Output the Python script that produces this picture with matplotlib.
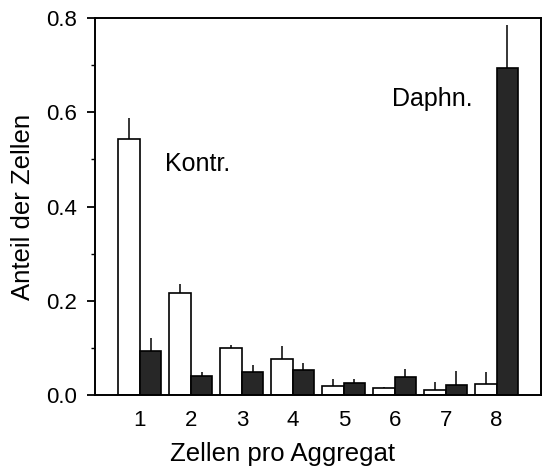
import matplotlib
matplotlib.use("Agg")
import matplotlib.pyplot as plt
from matplotlib.ticker import MultipleLocator
import numpy as np

plt.rcParams['font.family'] = ['Liberation Sans', 'DejaVu Sans']

# cells per aggregate
groups = [1, 2, 3, 4, 5, 6, 7, 8]

# control (white bars) and Daphnia (dark bars): mean and upper error
kontr = [0.543, 0.216, 0.099, 0.076, 0.019, 0.014, 0.011, 0.023]
kontr_err = [0.044, 0.019, 0.008, 0.028, 0.014, 0.004, 0.016, 0.026]
daphn = [0.093, 0.040, 0.049, 0.053, 0.026, 0.038, 0.021, 0.693]
daphn_err = [0.027, 0.009, 0.015, 0.014, 0.009, 0.017, 0.031, 0.092]


def main():
    fig = plt.figure(figsize=(5.51, 4.75), dpi=100)
    ax = fig.add_axes([0.1724, 0.1684, 0.8095, 0.7937])

    x = np.array(groups, dtype=float)
    w = 0.42

    ax.bar(x - w / 2, kontr, w, color='white', edgecolor='black', linewidth=1.2, zorder=2)
    ax.bar(x + w / 2, daphn, w, color='#272727', edgecolor='black', linewidth=1.2, zorder=2)

    # only the upper half of each error bar is drawn
    ax.errorbar(x - w / 2, kontr, yerr=[np.zeros(len(x)), kontr_err], fmt='none',
                ecolor='black', elinewidth=1.1, capsize=0, zorder=1)
    ax.errorbar(x + w / 2, daphn, yerr=[np.zeros(len(x)), daphn_err], fmt='none',
                ecolor='black', elinewidth=1.1, capsize=0, zorder=1)

    ax.set_xlim(0.12, 8.87)
    ax.set_ylim(0, 0.8)
    ax.set_xticks(groups)
    ax.set_yticks([0.0, 0.2, 0.4, 0.6, 0.8])
    ax.set_yticklabels(['0.0', '0.2', '0.4', '0.6', '0.8'])
    ax.yaxis.set_minor_locator(MultipleLocator(0.1))

    ax.tick_params(axis='x', length=0, pad=11, labelsize=16)
    ax.tick_params(axis='y', which='major', length=6, width=1.3, pad=7, labelsize=16)
    ax.tick_params(axis='y', which='minor', length=3, width=1.0)
    for s in ax.spines.values():
        s.set_linewidth(1.4)

    ax.text(1.5, 0.49, 'Kontr.', fontsize=18, va='center', ha='left')
    ax.text(5.95, 0.628, 'Daphn.', fontsize=18, va='center', ha='left')

    ax.set_xlabel('Zellen pro Aggregat', fontsize=18.5)
    ax.xaxis.set_label_coords(0.42, -0.125)
    ax.set_ylabel('Anteil der Zellen', fontsize=18.5, labelpad=8)

    fig.savefig('out.png', dpi=100)


if __name__ == "__main__":
    main()
